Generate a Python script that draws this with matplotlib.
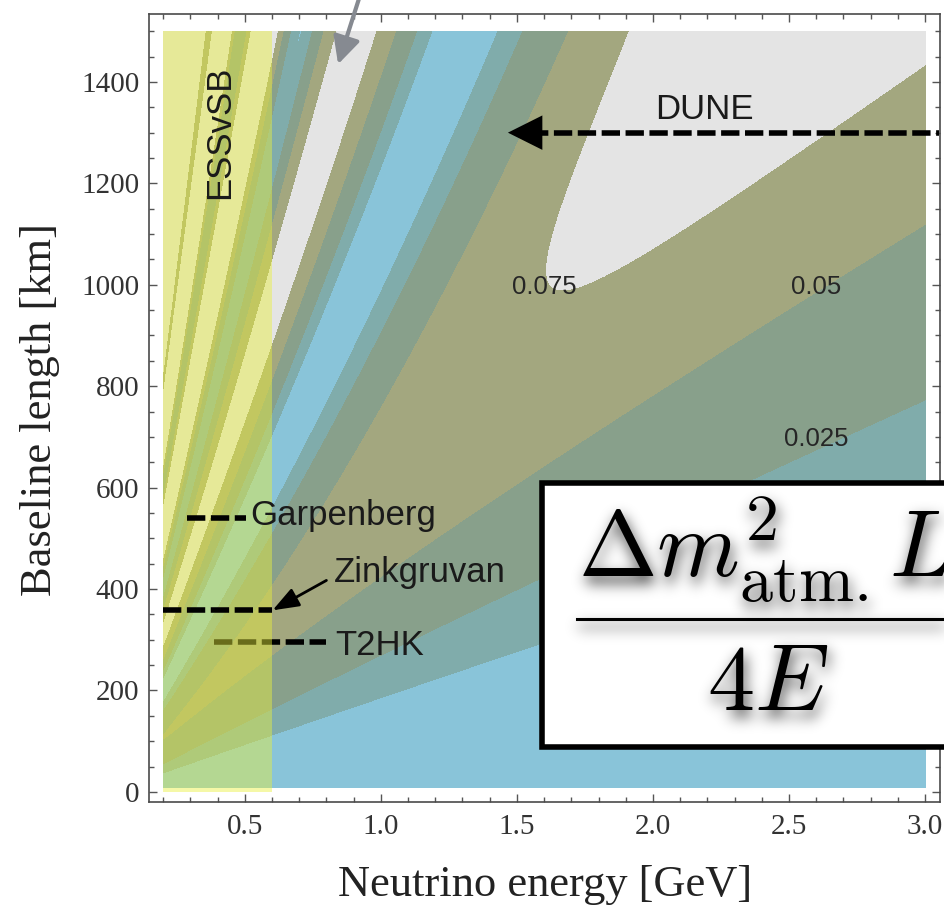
#!/usr/bin/env python3
"""
Appearance probability P(nu_mu -> nu_e) in the (E, L) plane,
with the baselines of a few long-baseline experiments marked on top.

Output: out.png
"""
import numpy as np
import matplotlib
matplotlib.use("Agg")
import matplotlib.pyplot as plt
from matplotlib.patches import Rectangle
from matplotlib.lines import Line2D
from matplotlib.ticker import MultipleLocator

plt.rcParams['mathtext.fontset'] = 'cm'

SANS = 'Liberation Sans'
SERIF = 'Liberation Serif'

# --- Oscillation parameters (normal ordering) ---
THETA12 = np.radians(33.5)
THETA13 = np.radians(7.65)
THETA23 = np.radians(45.0)
DM2_21 = 7.5e-5      # eV^2
DM2_31 = 2.5e-3      # eV^2
DELTA_CP = -np.pi / 2
RHO = 4.5            # g/cm^3, effective

# plotted domain
E_RANGE = [0.2, 3.0]     # GeV
L_RANGE = [8, 1500]      # km

# contour bands
levels = [0.0, 0.0125, 0.025, 0.05, 0.075, 1.0]
band_colors = ['#89c4d9', '#80acab', '#88a08b', '#a3a77f', '#e4e4e4']

# contour labels
contour_text = ['0.075', '0.05', '0.025']
contour_E = [1.60, 2.60, 2.60]
contour_L = [982, 982, 683]

# experiments: baseline and the energy span of the marker
exp_names = ['DUNE', 'Garpenberg', 'Zinkgruvan', 'T2HK']
exp_L = [1300, 541, 358, 295]
exp_E_lo = [1.55, 0.286, 0.2, 0.386]
exp_E_hi = [3.05, 0.504, 0.6, 0.80]

# ESSvSB energy window
ess_window = [0.2, 0.6]


def p_mue(E, L):
    """Approximate nu_mu -> nu_e appearance probability in constant matter."""
    delta = 1.267 * DM2_31 * L / E
    A = 7.6e-5 * RHO * E / DM2_31
    alpha = DM2_21 / DM2_31
    s1 = np.sin((1 - A) * delta) / (1 - A)
    s2 = np.sin(A * delta) / A
    t1 = np.sin(THETA23)**2 * np.sin(2 * THETA13)**2 * s1**2
    t2 = (alpha * np.sin(2 * THETA13) * np.cos(THETA13) * np.sin(2 * THETA12)
          * np.sin(2 * THETA23) * np.cos(delta + DELTA_CP) * s1 * s2)
    t3 = alpha**2 * np.cos(THETA23)**2 * np.sin(2 * THETA12)**2 * s2**2
    return t1 + t2 + t3


def gaussian_blur(a, sigma):
    r = int(3 * sigma)
    x = np.arange(-r, r + 1)
    k = np.exp(-0.5 * (x / sigma) ** 2)
    k /= k.sum()
    a = np.apply_along_axis(lambda v: np.convolve(v, k, mode='same'), 0, a)
    a = np.apply_along_axis(lambda v: np.convolve(v, k, mode='same'), 1, a)
    return a


def drop_shadow(sigma=7, dx=2, dy=7, strength=0.8):
    """agg filter: blurred, offset black copy of whatever the artist drew."""
    def _filter(im, dpi):
        pad = int(3 * sigma) + max(abs(dx), abs(dy))
        src = np.pad(im, [(pad, pad), (pad, pad), (0, 0)], 'constant')
        alpha = gaussian_blur(src[:, :, 3], sigma) * strength
        alpha = np.roll(np.roll(alpha, dy, axis=0), dx, axis=1)
        out = np.zeros_like(src)
        out[:, :, 3] = np.clip(alpha, 0, 1)
        return out, -pad, -pad
    return _filter


def main():
    W, H = 944, 911
    fig = plt.figure(figsize=(W / 100, H / 100), dpi=100)
    ax = fig.add_axes([149 / W, 1 - 802 / H, 791 / W, 788 / H])

    E = np.linspace(E_RANGE[0], E_RANGE[1], 900)
    L = np.linspace(L_RANGE[0], L_RANGE[1], 900)
    EE, LL = np.meshgrid(E, L)
    P = p_mue(EE, LL)
    ax.contourf(EE, LL, P, levels=levels, colors=band_colors, zorder=1)

    # ESSvSB window shaded in yellow
    ax.add_patch(Rectangle((ess_window[0], 0), ess_window[1] - ess_window[0], L_RANGE[1],
                           facecolor='#eaf03c', alpha=0.45, lw=0, zorder=3))
    ax.text(0.408, 1301, 'ESSvSB', rotation=90, ha='center', va='center',
            fontsize=25, family=SANS, color='#1a1a1a', zorder=6)

    # contour labels
    for txt, e, l in zip(contour_text, contour_E, contour_L):
        ax.text(e, l, txt, ha='center', va='baseline', fontsize=18.5,
                family=SANS, color='#262626', zorder=6)

    # experiment baselines
    dash_kw = dict(color='k', lw=4.0, dashes=(3.3, 1.0), dash_capstyle='butt')
    for name, l, lo, hi in zip(exp_names, exp_L, exp_E_lo, exp_E_hi):
        z = 2 if name == 'T2HK' else 5
        ax.plot([lo, hi], [l, l], zorder=z, clip_on=False, **dash_kw)

    # DUNE arrow head and label
    ax.annotate('', xy=(1.467, exp_L[0]), xytext=(1.60, exp_L[0]),
                arrowprops=dict(arrowstyle='-|>', mutation_scale=62, color='k',
                                lw=0, shrinkA=0, shrinkB=0), zorder=5)
    ax.text(2.19, 1327, 'DUNE', ha='center', va='baseline', fontsize=25,
            family=SANS, color='#1a1a1a', zorder=6)

    ax.text(0.52, 526, 'Garpenberg', ha='left', va='baseline', fontsize=25,
            family=SANS, color='#1a1a1a', zorder=6)
    ax.text(0.826, 413, 'Zinkgruvan', ha='left', va='baseline', fontsize=25,
            family=SANS, color='#1a1a1a', zorder=6)
    ax.annotate('', xy=(0.602, 358), xytext=(0.80, 417),
                arrowprops=dict(arrowstyle='-|>,head_length=0.4,head_width=0.15',
                                mutation_scale=40, color='k', lw=2.0,
                                shrinkA=0, shrinkB=0), zorder=5)
    ax.text(0.834, 270, 'T2HK', ha='left', va='baseline', fontsize=25,
            family=SANS, color='#1a1a1a', zorder=6)

    # gray pointer coming in from above
    ax.annotate('', xy=(0.843, 1435), xytext=(0.935, 1590),
                arrowprops=dict(arrowstyle='-|>,head_length=0.4,head_width=0.2',
                                mutation_scale=41, color='#868a91', lw=3.0,
                                shrinkA=0, shrinkB=0),
                annotation_clip=False, zorder=7)

    # axes styling
    ax.set_xlim(0.148, 3.055)
    ax.set_ylim(-20, 1534)
    ax.xaxis.set_major_locator(MultipleLocator(0.5))
    ax.xaxis.set_minor_locator(MultipleLocator(0.1))
    ax.yaxis.set_major_locator(MultipleLocator(200))
    ax.yaxis.set_minor_locator(MultipleLocator(50))
    ax.tick_params(which='both', direction='in', top=True, right=True,
                   color='#555555', width=1.0)
    ax.tick_params(which='major', length=6)
    ax.tick_params(which='minor', length=3.5)
    ax.tick_params(axis='x', pad=9)
    ax.tick_params(axis='y', pad=7)
    for lab in ax.get_xticklabels() + ax.get_yticklabels():
        lab.set_family(SERIF)
        lab.set_fontsize(21)
        lab.set_color('#333333')
    for sp in ax.spines.values():
        sp.set_color('#4a4a4a')
        sp.set_linewidth(1.2)

    fig.text(545 / W, 1 - 885 / H, 'Neutrino energy [GeV]', ha='center', va='center',
             fontsize=32, family=SERIF, color='#222222')
    fig.text(40 / W, 1 - 410 / H, 'Baseline length [km]', ha='center', va='center',
             rotation=90, fontsize=32, family=SERIF, color='#222222')

    # boxed phase expression with soft drop shadow
    fig.add_artist(Rectangle((542 / W, 1 - 747 / H), (1000 - 542) / W, (747 - 483) / H,
                             transform=fig.transFigure, facecolor='white',
                             edgecolor='black', lw=4.0, zorder=10))
    pieces = [
        (578 / W, 1 - 577 / H, r'$\Delta m^2_{\mathrm{atm.}}L$', 'left'),
        (768 / W, 1 - 710 / H, r'$4E$', 'center'),
    ]
    for x, y, s, ha in pieces:
        sh = fig.text(x, y, s, ha=ha, va='baseline', fontsize=68, zorder=11)
        sh.set_agg_filter(drop_shadow())
        fig.text(x, y, s, ha=ha, va='baseline', fontsize=68, zorder=12)
    bar_x, bar_y = [577 / W, 1.02], [1 - 619 / H] * 2
    bar_sh = Line2D(bar_x, bar_y, color='black', lw=2.2, transform=fig.transFigure,
                    zorder=11)
    bar_sh.set_agg_filter(drop_shadow())
    fig.add_artist(bar_sh)
    fig.add_artist(Line2D(bar_x, bar_y, color='black', lw=2.2,
                          transform=fig.transFigure, zorder=12))

    fig.savefig('out.png', dpi=100)
    plt.close(fig)


if __name__ == "__main__":
    main()
